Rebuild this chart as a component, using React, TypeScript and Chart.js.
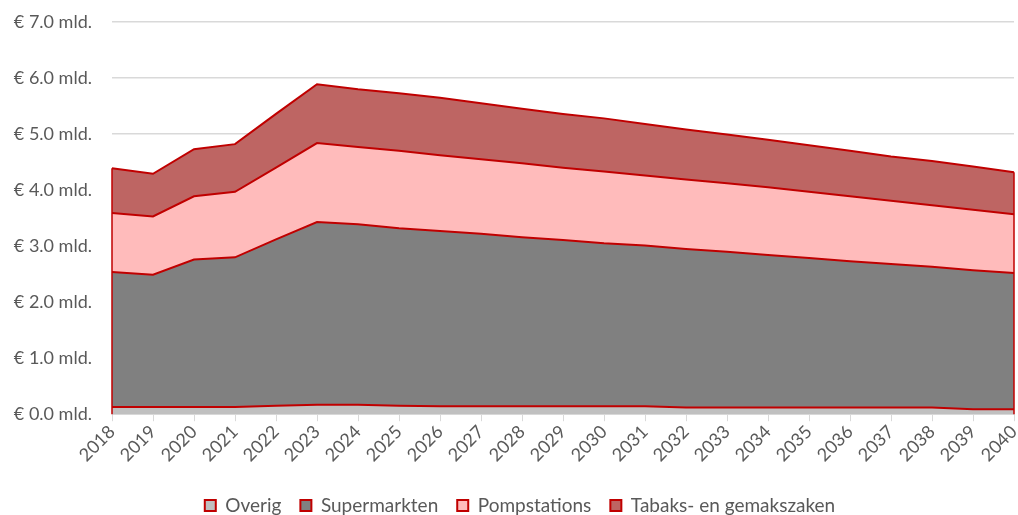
import React, { useEffect, useRef } from "react";
import { Chart, registerables } from "chart.js";

Chart.register(...registerables);

const years = ["2018","2019","2020","2021","2022","2023","2024","2025","2026","2027","2028","2029","2030","2031","2032","2033","2034","2035","2036","2037","2038","2039","2040"];

const overig = [0.13,0.13,0.13,0.13,0.15,0.17,0.17,0.15,0.14,0.14,0.14,0.14,0.14,0.14,0.12,0.12,0.12,0.12,0.12,0.12,0.12,0.09,0.09];
const supermarkten = [2.41,2.36,2.63,2.67,2.97,3.26,3.22,3.17,3.13,3.08,3.02,2.97,2.91,2.87,2.83,2.78,2.72,2.67,2.61,2.56,2.51,2.48,2.43];
const pompstations = [1.05,1.04,1.13,1.17,1.28,1.41,1.38,1.38,1.35,1.33,1.32,1.29,1.28,1.25,1.24,1.22,1.21,1.18,1.16,1.13,1.10,1.08,1.05];
const tabaks = [0.80,0.76,0.84,0.85,0.96,1.05,1.03,1.03,1.03,1.00,0.97,0.96,0.95,0.92,0.89,0.87,0.85,0.83,0.81,0.79,0.79,0.77,0.75];

const yTicks = [0, 1, 2, 3, 4, 5, 6, 7];

const RED = "#C00000";
const FONT = "Lato, 'Open Sans', sans-serif";
const TEXT = "#595959";

const edgePlugin = {
  id: "edges",
  afterDatasetsDraw(chart: any) {
    const { ctx, scales } = chart;
    const x = scales.x, y = scales.y;
    const n = years.length;
    const total = (i: number) => overig[i] + supermarkten[i] + pompstations[i] + tabaks[i];
    ctx.save();
    ctx.strokeStyle = RED;
    ctx.lineWidth = 1.5;
    [0, n - 1].forEach((i) => {
      const px = x.getPixelForValue(i);
      ctx.beginPath();
      ctx.moveTo(px, y.getPixelForValue(0));
      ctx.lineTo(px, y.getPixelForValue(total(i)));
      ctx.stroke();
    });
    ctx.restore();
  },
};

const legendShift = {
  id: "legendShift",
  afterLayout(chart: any) {
    if (chart.legend) {
      chart.legend.left += 13;
      chart.legend.right += 13;
    }
  },
};

export default function App() {
  const ref = useRef<HTMLCanvasElement>(null);
  useEffect(() => {
    const mk = (label: string, data: number[], bg: string, fill: any) => ({
      label,
      data,
      backgroundColor: bg,
      borderColor: RED,
      borderWidth: 2,
      pointRadius: 0,
      tension: 0,
      fill,
    });
    const chart = new Chart(ref.current!, {
      type: "line",
      data: {
        labels: years,
        datasets: [
          mk("Overig", overig, "#C0C0C0", "origin"),
          mk("Supermarkten", supermarkten, "#808080", "-1"),
          mk("Pompstations", pompstations, "#FFBBBB", "-1"),
          mk("Tabaks- en gemakszaken", tabaks, "#BE6563", "-1"),
        ],
      },
      options: {
        animation: false,
        responsive: true,
        maintainAspectRatio: false,
        layout: { padding: { top: 22, right: 4, left: 0, bottom: -10 } },
        plugins: {
          tooltip: { enabled: false },
          legend: {
            position: "bottom",
            labels: {
              boxWidth: 11,
              boxHeight: 11,
              padding: 19,
              color: TEXT,
              font: { family: FONT, size: 19 },
            },
          },
        },
        scales: {
          x: {
            stacked: true,
            offset: false,
            afterFit: (s: any) => { s.paddingRight = 0; s.paddingLeft = 0; s.height = s.height + 11; },
            grid: { display: true, drawOnChartArea: false, drawTicks: true, tickLength: 7, color: "#D9D9D9", lineWidth: 1 },
            border: { display: true, color: "#D9D9D9", width: 1 },
            ticks: { color: TEXT, font: { family: FONT, size: 18 }, minRotation: 45, maxRotation: 45, autoSkip: false, padding: 0 },
          },
          y: {
            stacked: true,
            min: 0,
            max: 7,
            afterBuildTicks: (s: any) => { s.ticks = yTicks.map((v) => ({ value: v })); },
            afterFit: (s: any) => { s.width = 112; s.paddingTop = 0; s.paddingBottom = 0; },
            grid: { color: "#D9D9D9", lineWidth: 1.5, drawTicks: false },
            border: { display: false },
            ticks: {
              color: TEXT,
              padding: 20,
              font: { family: FONT, size: 18 },
              callback: (v: any) => `€ ${Number(v).toFixed(1)} mld.`,
            },
          },
        },
      },
      plugins: [edgePlugin, legendShift],
    });
    return () => chart.destroy();
  }, []);
  return (
    <div style={{ position: "fixed", left: 0, top: 0, width: 1018, height: 515, background: "#fff" }}>
      <canvas ref={ref} />
    </div>
  );
}
